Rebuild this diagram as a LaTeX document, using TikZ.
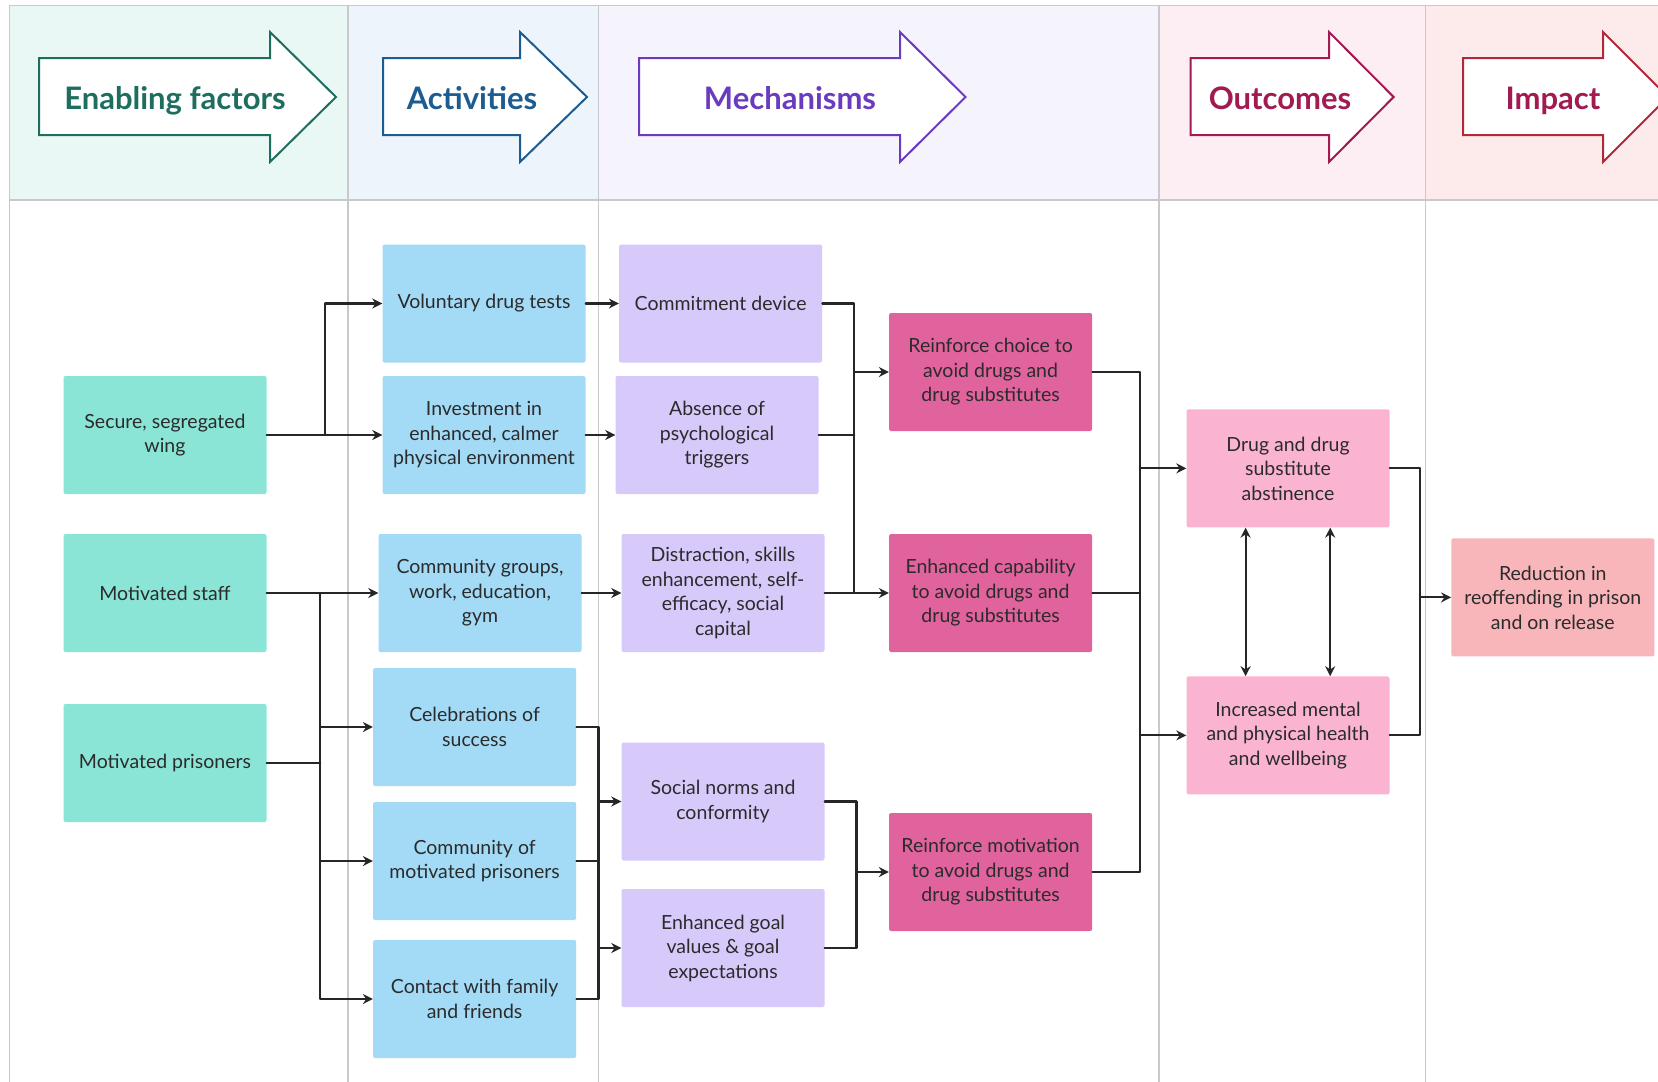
\documentclass[tikz,border=0pt]{standalone}
\usepackage{fontspec}
\setmainfont{Lato}
\usetikzlibrary{arrows.meta}

\definecolor{gridc}{HTML}{C9C9CC}
\definecolor{txt}{HTML}{2B2B2B}
% header backgrounds
\definecolor{efbg}{HTML}{EAF8F5}
\definecolor{actbg}{HTML}{EEF4FC}
\definecolor{mecbg}{HTML}{F5F3FC}
\definecolor{outbg}{HTML}{FDEEF3}
\definecolor{impbg}{HTML}{FDEAEA}
% header arrow colours
\definecolor{efc}{HTML}{1E6E60}
\definecolor{actc}{HTML}{1D5C91}
\definecolor{mecc}{HTML}{6B3BBF}
\definecolor{outc}{HTML}{A21A52}
\definecolor{impc}{HTML}{B1283A}
% box fills
\definecolor{effill}{HTML}{8AE5D6}
\definecolor{actfill}{HTML}{A3DBF7}
\definecolor{mecfill}{HTML}{D8C9FB}
\definecolor{capfill}{HTML}{E1639E}
\definecolor{outfill}{HTML}{FAB4D2}
\definecolor{impfill}{HTML}{F9B6BA}

\tikzset{
  box/.style={rectangle, rounded corners=2pt, minimum width=203pt, minimum height=118pt,
    align=center, text=txt, inner sep=4pt, font=\fontsize{19.5}{24.5}\selectfont},
  line/.style={line width=2.1pt, draw=black!85, line cap=round, line join=round},
  link/.style={line, -{Stealth[length=10pt,width=10pt]}},
  dlink/.style={line, {Stealth[length=10pt,width=10pt]}-{Stealth[length=10pt,width=10pt]}},
  grid/.style={draw=gridc, line width=1.5pt},
  hdr/.style={fill=white, line width=2pt, line join=miter},
  hdrtext/.style={anchor=base, font=\fontsize{31}{33}\selectfont\bfseries}
}

\begin{document}
\begin{tikzpicture}[x=1pt,y=-1pt]

\clip (0,0) rectangle (1658,1082);
\fill[white] (0,0) rectangle (1658,1082);

% header backgrounds
\fill[efbg]  (9.5,5.3)   rectangle (348,200);
\fill[actbg] (348,5.3)   rectangle (598.5,200);
\fill[mecbg] (598.5,5.3) rectangle (1159,200);
\fill[outbg] (1159,5.3)  rectangle (1425.5,200);
\fill[impbg] (1425.5,5.3) rectangle (1658,200);

% grid
\draw[grid] (9.5,5.3) -- (1658,5.3);
\draw[grid] (9.5,200) -- (1658,200);
\foreach \x in {9.5,348,598.5,1159,1425.5}{
    \draw[grid] (\x,5.3) -- (\x,1082);
}

% header arrows
\foreach \xl/\xb/\xt/\xm/\col/\tc/\lbl in {
    39/270/336/175/efc/efc/Enabling factors,
    383/520/587/472/actc/actc/Activities,
    639/900/965.5/790/mecc/mecc/Mechanisms,
    1190.5/1329/1393.6/1280/outc/outc/Outcomes,
    1463/1603/1668/1553/impc/outc/Impact}{
    \draw[hdr,draw=\col] (\xl,58) -- (\xb,58) -- (\xb,32) -- (\xt,97)
        -- (\xb,162) -- (\xb,135) -- (\xl,135) -- cycle;
    \node[hdrtext,text=\tc] (h\col) at (\xm,109) {\lbl};
}

% enabling factors
\node[box,fill=effill] (en1) at (165,435) {Secure, segregated\\wing};
\node[box,fill=effill] (en2) at (165,593) {Motivated staff};
\node[box,fill=effill] (en3) at (165,763) {Motivated prisoners};

% activities
\node[box,fill=actfill] (act1) at (484,303.5) {Voluntary drug tests};
\node[box,fill=actfill] (act2) at (484,435) {Investment in\\enhanced, calmer\\physical environment};
\node[box,fill=actfill] (act3) at (480,593) {Community groups,\\work, education,\\gym};
\node[box,fill=actfill] (act4) at (474.6,727) {Celebrations of\\success};
\node[box,fill=actfill] (act5) at (474.6,861) {Community of\\motivated prisoners};
\node[box,fill=actfill] (act6) at (474.6,999) {Contact with family\\and friends};

% mechanisms
\node[box,fill=mecfill] (mec1) at (720.6,303.5) {Commitment device};
\node[box,fill=mecfill] (mec2) at (717,435) {Absence of\\psychological\\triggers};
\node[box,fill=mecfill] (mec3) at (723,593) {Distraction, skills\\enhancement, self-\\efficacy, social\\capital};
\node[box,fill=mecfill] (mec4) at (723,801.5) {Social norms and\\conformity};
\node[box,fill=mecfill] (mec5) at (723,948) {Enhanced goal\\values \& goal\\expectations};

\node[box,fill=capfill] (cap1) at (990.6,372) {Reinforce choice to\\avoid drugs and\\drug substitutes};
\node[box,fill=capfill] (cap2) at (990.6,593) {Enhanced capability\\to avoid drugs and\\drug substitutes};
\node[box,fill=capfill] (cap3) at (990.6,872) {Reinforce motivation\\to avoid drugs and\\drug substitutes};

% outcomes and impact
\node[box,fill=outfill] (out1) at (1288,468.4) {Drug and drug\\substitute\\abstinence};
\node[box,fill=outfill] (out2) at (1288,735.4) {Increased mental\\and physical health\\and wellbeing};
\node[box,fill=impfill] (imp) at (1552.8,597.4) {Reduction in\\reoffending in prison\\and on release};

% junctions
\coordinate (j1) at (324.6,435);
\coordinate (j2) at (320.4,593);
\coordinate (j3) at (854.4,0);
\coordinate (j4) at (598.5,0);
\coordinate (j5) at (856.5,0);
\coordinate (j6) at (1140,0);
\coordinate (j7) at (1420,0);

% enabling -> activities
\draw[link] (en1.east) -- (act2.west);
\draw[link] (j1) |- (act1.west);
\draw[link] (en2.east) -- (act3.west);
\draw[line] (en3.east) -- (en3.east -| j2);
\draw[link] (j2) |- (act4.west);
\draw[link] (j2) |- (act5.west);
\draw[link] (j2) |- (act6.west);

% activities -> mechanisms
\draw[link] (act1.east) -- (mec1.west);
\draw[link] (act2.east) -- (mec2.west);
\draw[link] (act3.east) -- (mec3.west);
\draw[line] (act4.east) -| (j4 |- act6.east) -- (act6.east);
\draw[line] (act5.east) -- (act5.east -| j4);
\draw[link] (j4 |- mec4.west) -- (mec4.west);
\draw[link] (j4 |- mec5.west) -- (mec5.west);

% mechanisms -> mechanisms
\draw[line] (mec1.east) -| (j3 |- mec3.east);
\draw[line] (mec2.east) -- (mec2.east -| j3);
\draw[link] (mec3.east) -- (cap2.west);
\draw[link] (j3 |- cap1.west) -- (cap1.west);
\draw[line] (mec4.east) -| (j5 |- mec5.east) -- (mec5.east);
\draw[link] (j5 |- cap3.west) -- (cap3.west);

% mechanisms -> outcomes
\draw[line] (cap1.east) -| (j6 |- cap3.east) -- (cap3.east);
\draw[line] (cap2.east) -- (cap2.east -| j6);
\draw[link] (j6 |- out1.west) -- (out1.west);
\draw[link] (j6 |- out2.west) -- (out2.west);
\draw[dlink] ([xshift=-42.4pt]out1.south) -- ([xshift=-42.4pt]out2.north);
\draw[dlink] ([xshift=42.2pt]out1.south) -- ([xshift=42.2pt]out2.north);

% outcomes -> impact
\draw[line] (out1.east) -| (j7 |- out2.east) -- (out2.east);
\draw[link] (j7 |- imp.west) -- (imp.west);

\end{tikzpicture}
\end{document}
